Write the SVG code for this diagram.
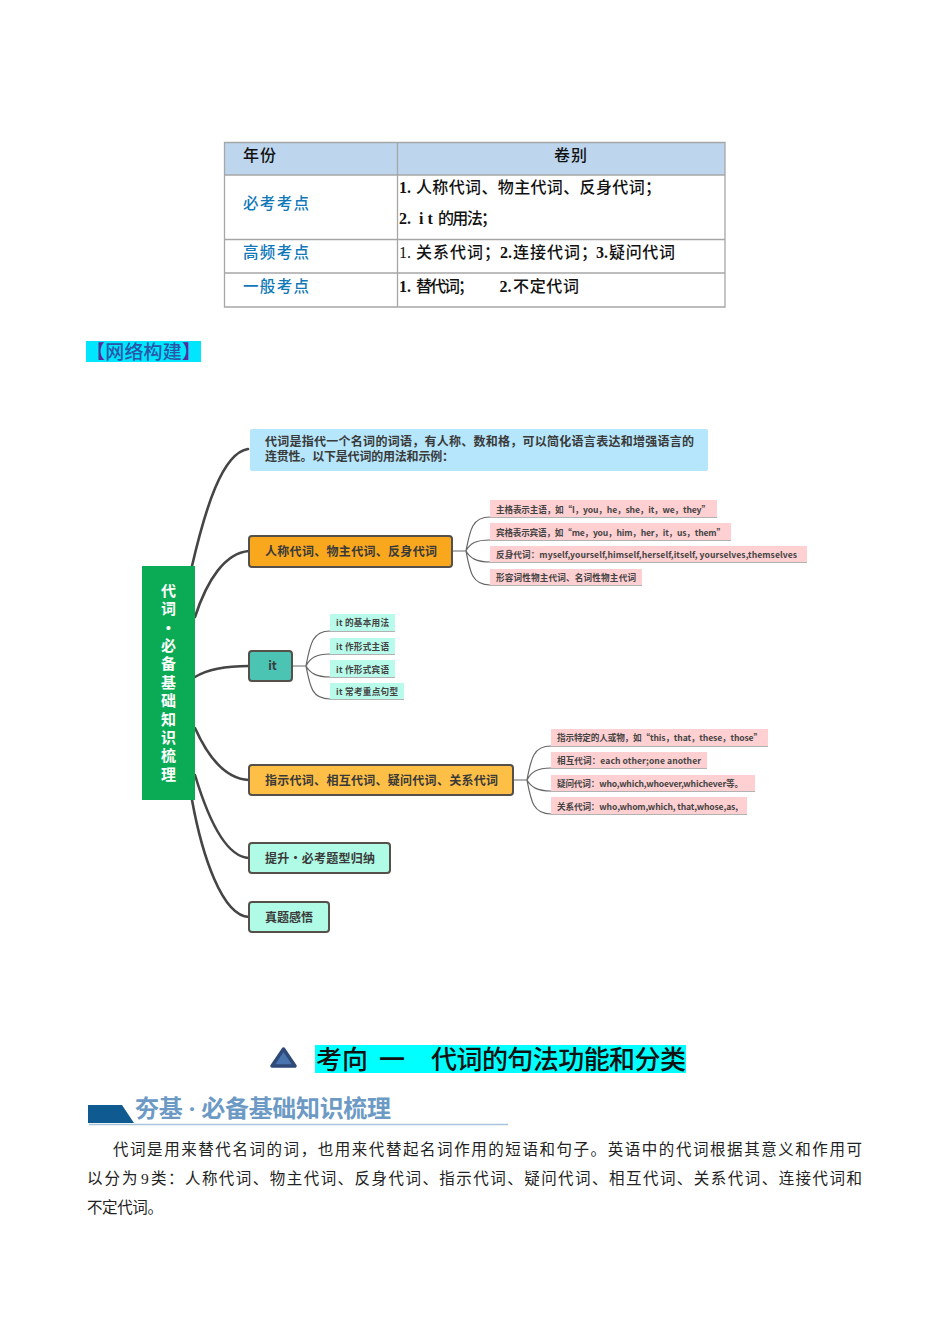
<svg xmlns="http://www.w3.org/2000/svg" width="950" height="1344" viewBox="0 0 950 1344">
<style>
text{font-family:"Liberation Serif","Noto Sans CJK SC",serif}
.cell{font-size:16px;fill:#111;font-weight:500}
.b{font-weight:700}
.key{fill:#0f78b8;font-size:15.5px;font-weight:500}
.grid{stroke:#a6a6a6;stroke-width:1.3;fill:none}
.mm{font-family:"Noto Sans CJK SC","Noto Sans",sans-serif;font-weight:700;fill:#3a3a3a}
.n{stroke:#55504a;stroke-width:2}
.nt{font-size:12px}
.lf{font-size:8.6px;fill:#444}
.main{fill:none;stroke:#454545;stroke-width:2.6;stroke-linecap:round}
.sub{fill:none;stroke:#666;stroke-width:1.2}
.pink{fill:#ffd0d2}
.mint{fill:#b9fbea}
.body{font-size:15.5px;fill:#222}
</style>
<g id="table">
<rect x="224" y="142" width="501" height="33" fill="#bdd6ee"/>
<path class="grid" d="M224.500 142.500H725V307H224.500ZM397.500 142.500V307M224.500 175H725M224.500 239.500H725M224.500 273H725"/>
<text class="cell" x="243" y="161" textLength="33">年份</text>
<text class="cell" x="554" y="161" textLength="33">卷别</text>
<text class="key" x="243" y="209" textLength="66">必考考点</text>
<text class="key" x="243" y="258" textLength="66">高频考点</text>
<text class="key" x="243" y="292" textLength="66">一般考点</text>
<text class="cell b" x="399" y="193">1.</text>
<text class="cell" x="416" y="193" textLength="245">人称代词、物主代词、反身代词；</text>
<text class="cell b" x="399" y="224">2.</text>
<text class="cell b" x="419" y="224">i t</text>
<text class="cell" x="438" y="224" textLength="59">的用法；</text>
<text class="cell" x="399" y="258">1.</text>
<text class="cell" x="416" y="258" textLength="84">关系代词；</text>
<text class="cell b" x="500" y="258">2.</text>
<text class="cell" x="513" y="258" textLength="84">连接代词；</text>
<text class="cell b" x="596" y="258">3.</text>
<text class="cell" x="609" y="258" textLength="66">疑问代词</text>
<text class="cell b" x="399" y="292">1.</text>
<text class="cell" x="416" y="292" textLength="58">替代词；</text>
<text class="cell b" x="499.500" y="292">2.</text>
<text class="cell" x="513" y="292" textLength="66">不定代词</text>
</g>
<g id="section-title">
<rect x="86" y="341" width="115" height="21" fill="#00e6ff"/>
<text x="86" y="358.500" font-size="19" font-weight="500" fill="#2a56a8" textLength="115"><tspan fill="#5a2a9a">【</tspan>网络构建<tspan fill="#5a2a9a">】</tspan></text>
</g>
<g id="connectors">
<path class="main" d="M192 566C205 510 222 453 248 449"/>
<path class="main" d="M195 617C207 580 225 553 249 551"/>
<path class="main" d="M195 677C208 669 225 666 249 666"/>
<path class="main" d="M195 728C208 757 226 779 249 780"/>
<path class="main" d="M195 775C207 815 225 857 249 858"/>
<path class="main" d="M192 800C202 855 222 916 249 917"/>
<path class="sub" d="M452 551H466M466 551C470 530 472 517 490 517H717M466 551C470 543 476 540 490 540H731M466 551C470 558 476 562 490 562H807M466 551C470 572 472 585 490 585H642"/>
<path class="sub" d="M292 666H306M306 666C310 645 312 631 330 631H395M306 666C310 658 316 654 330 654H395M306 666C310 673 316 677 330 677H395M306 666C310 687 312 699 330 699H404"/>
<path class="sub" d="M513 780H527M527 780C531 759 533 746 551 746H768M527 780C531 772 537 768 551 768H707M527 780C531 787 537 791 551 791H755M527 780C531 801 533 814 551 814H747"/>
</g>
<g id="root">
<rect x="142" y="566" width="53" height="234" fill="#0aab54"/>
<g class="mm" font-size="15" text-anchor="middle" style="fill:#fff">
<text x="168.500" y="596">代</text><text x="168.500" y="614">词</text><text x="168.500" y="633">•</text><text x="168.500" y="651">必</text><text x="168.500" y="669">备</text><text x="168.500" y="688">基</text><text x="168.500" y="706">础</text><text x="168.500" y="725">知</text><text x="168.500" y="743">识</text><text x="168.500" y="761">梳</text><text x="168.500" y="780">理</text>
</g>
</g>
<g id="intro">
<rect x="250" y="429" width="458" height="42" rx="2" fill="#b5e6fb"/>
<text class="mm nt" x="265" y="446" textLength="429">代词是指代一个名词的词语，有人称、数和格，可以简化语言表达和增强语言的</text>
<text class="mm nt" x="265" y="461" textLength="189">连贯性。以下是代词的用法和示例：</text>
</g>
<g id="n-personal">
<rect class="n" x="249" y="536" width="203" height="31" rx="3" fill="#f9a81e"/>
<text class="mm nt" x="265" y="556" textLength="172">人称代词、物主代词、反身代词</text>
</g>
<g id="n-it">
<rect class="n" x="249" y="651" width="43" height="30" rx="3" fill="#4bc4b4"/>
<text class="mm nt" x="272.500" y="670" text-anchor="middle">it</text>
</g>
<g id="n-demo">
<rect class="n" x="249" y="765" width="264" height="30" rx="3" fill="#fdbf45"/>
<text class="mm nt" x="265" y="785" textLength="233">指示代词、相互代词、疑问代词、关系代词</text>
</g>
<g id="n-up">
<rect class="n" x="249" y="843" width="141" height="30" rx="3" fill="#b0fbe6"/>
<text class="mm nt" x="265" y="862.500" textLength="110">提升•必考题型归纳</text>
</g>
<g id="n-real">
<rect class="n" x="249" y="902" width="80" height="30" rx="3" fill="#b0fbe6"/>
<text class="mm nt" x="265" y="921.500" textLength="48">真题感悟</text>
</g>
<g id="l1"><rect class="pink" x="490" y="500" width="227" height="17"/><text class="mm lf" x="496" y="512.500" textLength="214">主格表示主语，如“I，you，he，she，it，we，they”</text></g>
<g id="l2"><rect class="pink" x="490" y="523" width="241" height="17"/><text class="mm lf" x="496" y="535.500" textLength="229">宾格表示宾语，如“me，you，him，her，it，us，them”</text></g>
<g id="l3"><rect class="pink" x="490" y="546" width="317" height="16"/><text class="mm lf" x="496" y="558" textLength="301">反身代词：myself,yourself,himself,herself,itself, yourselves,themselves</text></g>
<g id="l4"><rect class="pink" x="490" y="569" width="152" height="16"/><text class="mm lf" x="496" y="581" textLength="140">形容词性物主代词、名词性物主代词</text></g>
<g id="i1"><rect class="mint" x="330" y="614" width="65" height="17"/><text class="mm lf" x="336" y="626" textLength="53">it 的基本用法</text></g>
<g id="i2"><rect class="mint" x="330" y="638" width="65" height="16"/><text class="mm lf" x="336" y="649.500" textLength="53">it 作形式主语</text></g>
<g id="i3"><rect class="mint" x="330" y="660" width="65" height="17"/><text class="mm lf" x="336" y="672.500" textLength="53">it 作形式宾语</text></g>
<g id="i4"><rect class="mint" x="330" y="683" width="74" height="16"/><text class="mm lf" x="336" y="695" textLength="62">it 常考重点句型</text></g>
<g id="d1"><rect class="pink" x="551" y="729" width="217" height="17"/><text class="mm lf" x="557" y="741" textLength="205">指示特定的人或物，如“this，that，these，those”</text></g>
<g id="d2"><rect class="pink" x="551" y="752" width="156" height="16"/><text class="mm lf" x="557" y="764" textLength="144">相互代词：each other;one another</text></g>
<g id="d3"><rect class="pink" x="551" y="775" width="204" height="16"/><text class="mm lf" x="557" y="787" textLength="186">疑问代词：who,which,whoever,whichever等。</text></g>
<g id="d4"><rect class="pink" x="551" y="797" width="196" height="17"/><text class="mm lf" x="557" y="810" textLength="181">关系代词：who,whom,which, that,whose,as,</text></g>
<g id="heading">
<path d="M283.500 1049L295 1066H272Z" fill="#4a74ad" stroke="#2f4a78" stroke-width="3.500" stroke-linejoin="round"/>
<rect x="315" y="1045" width="371" height="28" fill="#00ffff"/>
<text x="316" y="1069" font-size="26" font-weight="500" fill="#111">考向</text>
<text x="379" y="1069" font-size="26" font-weight="500" fill="#111">一</text>
<text x="431" y="1069" font-size="26" font-weight="500" fill="#111" textLength="255">代词的句法功能和分类</text>
</g>
<g id="banner">
<path d="M88 1105H122L134 1123H88Z" fill="#0f5a90"/>
<path d="M89 1124.500H508" stroke="#a9c4da" stroke-width="1.500" fill="none"/>
<text x="135" y="1117" font-size="24" font-weight="700" fill="#6d9ac4" textLength="256">夯基 · 必备基础知识梳理</text>
</g>
<g id="paragraph">
<text class="body" x="113" y="1155" textLength="749">代词是用来替代名词的词，也用来代替起名词作用的短语和句子。英语中的代词根据其意义和作用可</text>
<text class="body" x="87" y="1184" textLength="50.500">以分为</text>
<text class="body" x="141" y="1184">9</text>
<text class="body" x="151" y="1184" textLength="711">类：人称代词、物主代词、反身代词、指示代词、疑问代词、相互代词、关系代词、连接代词和</text>
<text class="body" x="87" y="1213" textLength="76">不定代词。</text>
</g>
</svg>
